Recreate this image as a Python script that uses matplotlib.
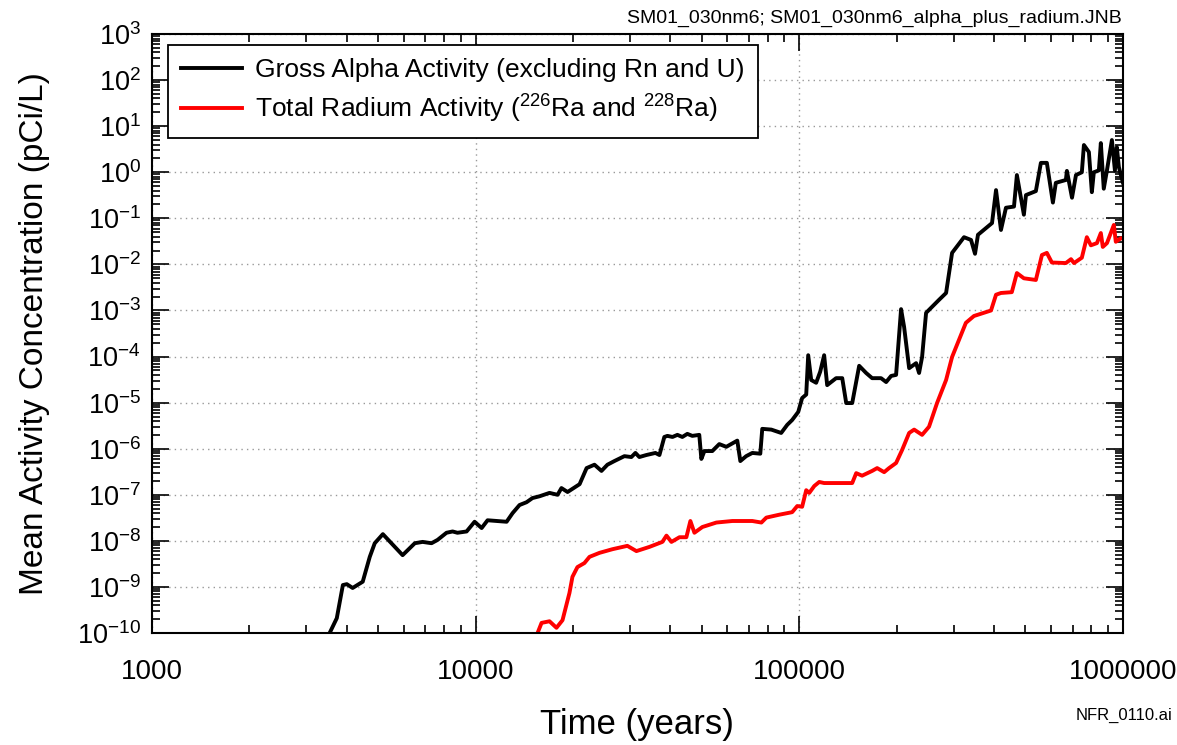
import numpy as np
import matplotlib
matplotlib.use("Agg")
import matplotlib.pyplot as plt
from matplotlib.ticker import LogLocator, FuncFormatter, NullFormatter

plt.rcParams["font.family"] = ["Liberation Sans", "DejaVu Sans"]
plt.rcParams["mathtext.fontset"] = "custom"
plt.rcParams["mathtext.rm"] = "Liberation Sans"
plt.rcParams["mathtext.it"] = "Liberation Sans:italic"
plt.rcParams["mathtext.bf"] = "Liberation Sans:bold"

# ── data ──────────────────────────────────────────────────────────────────────
alpha_t = [3540, 3725, 3890, 4000, 4170, 4480, 4710, 4880, 5170, 5950,
           6490, 6860, 7310, 7630, 8130, 8490, 8790, 9380, 9930, 10440,
           10890, 12470, 13010, 13670, 14370, 14990, 15770, 16920, 17920, 18420,
           19240, 20960, 22030, 23300, 24490, 25550, 26850, 28830, 30290, 31180,
           32060, 33700, 35940, 36990, 38300, 39150, 40590, 42030, 43530, 45110,
           46740, 49110, 49840, 50940, 53880, 56620, 59520, 64360, 65770, 68570,
           71620, 75810, 76870, 82000, 87960, 91830, 95100, 99310, 102100, 105100,
           106600, 108900, 112800, 116100, 119400, 122000, 130000, 135800, 139700, 145800,
           153200, 161000, 168000, 179000, 185600, 192300, 199200, 206400, 210900, 218600,
           229700, 234600, 239700, 246600, 257200, 270300, 284300, 296700, 323000, 339500,
           349300, 356700, 394200, 405600, 420100, 435300, 460900, 470500, 494500, 501900,
           538500, 558100, 582300, 607900, 620700, 666600, 671600, 696400, 716300, 746900,
           758000, 785300, 802000, 813400, 843000, 855000, 873000, 893000, 925000, 945000,
           958000, 972000, 1000000]
alpha_v = [1.0e-10, 2.1e-10, 1.1e-9, 1.15e-9, 9.5e-10, 1.3e-9, 4.5e-9, 8.9e-9, 1.4e-8, 4.9e-9,
           8.9e-9, 9.5e-9, 8.9e-9, 1.05e-8, 1.5e-8, 1.6e-8, 1.5e-8, 1.6e-8, 2.6e-8, 1.9e-8,
           2.8e-8, 2.6e-8, 4.0e-8, 6.0e-8, 6.9e-8, 8.5e-8, 9.3e-8, 1.1e-7, 1.0e-7, 1.4e-7,
           1.15e-7, 1.7e-7, 3.8e-7, 4.5e-7, 3.3e-7, 4.5e-7, 5.4e-7, 6.9e-7, 6.6e-7, 8.1e-7,
           6.6e-7, 7.3e-7, 8.1e-7, 7.3e-7, 1.8e-6, 1.9e-6, 1.8e-6, 2.0e-6, 1.8e-6, 2.1e-6,
           1.9e-6, 2.0e-6, 6.0e-7, 8.9e-7, 8.9e-7, 1.26e-6, 1.1e-6, 1.5e-6, 5.4e-7, 6.9e-7,
           8.1e-7, 7.8e-7, 2.7e-6, 2.6e-6, 2.2e-6, 3.3e-6, 4.2e-6, 6.3e-6, 1.26e-5, 1.5e-5,
           1.07e-4, 3.1e-5, 2.7e-5, 4.7e-5, 1.07e-4, 2.4e-5, 3.4e-5, 3.4e-5, 9.8e-6, 9.8e-6,
           6.3e-5, 4.4e-5, 3.4e-5, 3.4e-5, 2.8e-5, 3.8e-5, 4.0e-5, 1.07e-3, 4.4e-4, 5.6e-5,
           7.2e-5, 4.4e-5, 9.8e-5, 8.9e-4, 1.2e-3, 1.7e-3, 2.4e-3, 1.78e-2, 3.9e-2, 3.4e-2,
           1.7e-2, 4.4e-2, 7.9e-2, 0.41, 5.6e-2, 0.17, 0.18, 0.87, 0.12, 0.32,
           0.39, 1.6, 1.6, 0.22, 0.59, 0.68, 1.07, 0.28, 0.87, 1.0,
           3.9, 2.75, 0.37, 1.0, 1.1, 4.3, 0.44, 1.1, 5.0, 1.1,
           3.5, 1.3, 0.6]

radium_t = [15420, 15990, 16920, 17780, 18560, 19500, 19920, 20640, 21690, 22490,
            24150, 26490, 29440, 31400, 34440, 37770, 38890, 40290, 42650, 44800,
            46100, 47440, 50200, 55470, 62140, 71620, 76400, 79140, 86780, 91830,
            95100, 98600, 102100, 105100, 107400, 111300, 115300, 119400, 130000, 145800,
            150000, 156400, 168000, 174100, 183000, 189500, 199200, 207800, 218600, 226500,
            239700, 251800, 266600, 284300, 296700, 327300, 346700, 391400, 405600, 420100,
            453800, 470500, 494500, 538500, 562300, 582300, 603500, 666600, 691500, 706400,
            746900, 774000, 796600, 831500, 855000, 867000, 893000, 938000, 951000, 986000,
            1000000]
radium_v = [8.7e-11, 1.66e-10, 1.8e-10, 1.3e-10, 1.9e-10, 7.4e-10, 1.66e-9, 2.7e-9, 3.3e-9, 4.5e-9,
            5.5e-9, 6.6e-9, 7.8e-9, 6.0e-9, 7.4e-9, 9.5e-9, 1.3e-8, 9.5e-9, 1.2e-8, 1.2e-8,
            2.7e-8, 1.5e-8, 2.0e-8, 2.5e-8, 2.7e-8, 2.7e-8, 2.5e-8, 3.2e-8, 3.7e-8, 4.0e-8,
            4.2e-8, 5.7e-8, 5.5e-8, 1.26e-7, 1.1e-7, 1.55e-7, 1.9e-7, 1.8e-7, 1.8e-7, 1.8e-7,
            2.95e-7, 2.6e-7, 3.3e-7, 3.8e-7, 3.1e-7, 3.8e-7, 4.9e-7, 9.3e-7, 2.2e-6, 2.6e-6,
            2.0e-6, 3.0e-6, 9.8e-6, 3.1e-5, 9.8e-5, 5.4e-4, 7.6e-4, 1.0e-3, 2.2e-3, 2.4e-3,
            2.5e-3, 6.5e-3, 5.0e-3, 4.6e-3, 1.6e-2, 1.78e-2, 1.1e-2, 1.07e-2, 1.3e-2, 1.07e-2,
            1.4e-2, 3.9e-2, 2.6e-2, 2.9e-2, 4.8e-2, 2.4e-2, 2.9e-2, 7.2e-2, 3.1e-2, 3.7e-2,
            3.7e-2]

# ── figure ────────────────────────────────────────────────────────────────────
fig = plt.figure(figsize=(11.77, 7.45), dpi=100)
ax = fig.add_axes([0.1291, 0.1503, 0.8249, 0.8040])

ax.plot(alpha_t, alpha_v, color="black", lw=2.8,
        label="Gross Alpha Activity (excluding Rn and U)")
ax.plot(radium_t, radium_v, color="#ff0000", lw=2.8,
        label="Total Radium Activity ($^{226}$Ra and $^{228}$Ra)")

ax.set_xscale("log"); ax.set_yscale("log")
ax.set_xlim(1000, 1000000)
ax.set_ylim(1e-10, 1e3)

ax.xaxis.set_major_locator(LogLocator(base=10, numticks=10))
ax.xaxis.set_major_formatter(FuncFormatter(lambda v, p: f"{int(round(v))}"))
ax.xaxis.set_minor_locator(LogLocator(base=10, subs=np.arange(2, 10), numticks=20))
ax.xaxis.set_minor_formatter(NullFormatter())
ax.yaxis.set_major_locator(LogLocator(base=10, numticks=20))
ax.yaxis.set_minor_locator(LogLocator(base=10, subs=np.arange(2, 10), numticks=30))
ax.yaxis.set_minor_formatter(NullFormatter())

ax.tick_params(which="both", direction="in", top=True, right=True, width=1.2)
ax.tick_params(which="major", length=12)
ax.tick_params(axis="x", which="major", pad=19, labelsize=20)
ax.tick_params(axis="y", which="major", pad=8, labelsize=19.5)
ax.tick_params(which="minor", length=6)
for s in ax.spines.values():
    s.set_linewidth(1.5)

ax.grid(True, which="major", linestyle=(0, (1, 3)), color="#999999", lw=1.0)

ax.set_xlabel("Time (years)", fontsize=25, labelpad=16)
ax.set_ylabel("Mean Activity Concentration (pCi/L)", fontsize=24, labelpad=19)

leg = ax.legend(loc="upper left", fontsize=19, frameon=True, fancybox=False,
                edgecolor="black", framealpha=1, handlelength=2.3,
                handletextpad=0.5, borderpad=0.5, labelspacing=0.4,
                borderaxespad=0, bbox_to_anchor=(0.0165, 0.982))
leg.get_frame().set_linewidth(1.3)

fig.text(0.953, 0.975, "SM01_030nm6; SM01_030nm6_alpha_plus_radium.JNB",
         ha="right", va="center", fontsize=14)
fig.text(0.996, 0.04, "NFR_0110.ai", ha="right", va="center", fontsize=12)

fig.savefig("out.png", dpi=100)
